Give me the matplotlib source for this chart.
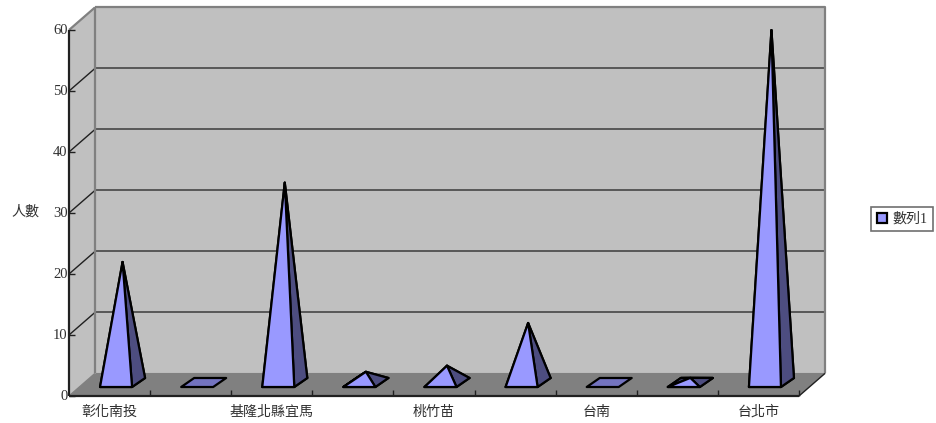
import matplotlib
matplotlib.use("Agg")
import matplotlib.pyplot as plt
from matplotlib.patches import Polygon, Patch

plt.rcParams['font.family'] = ['Liberation Serif', 'Noto Sans CJK TC', 'DejaVu Sans']

categories = ['彰化南投', '', '基隆北縣宜馬', '', '桃竹苗', '', '台南', '', '台北市']
values = [20, 0, 33, 2, 3, 10, 0, 1, 58]
y_ticks = [0, 10, 20, 30, 40, 50, 60]
series_name = '數列1'
y_label = '人數'

W, H = 936, 423
fig = plt.figure(figsize=(W / 100, H / 100), dpi=100)
ax = fig.add_axes([69 / W, (H - 396) / H, 730 / W, 366 / H])
n = len(categories)
ax.set_xlim(0, n)
ax.set_ylim(0, 60)
ax.axis('off')

# pixel sizes converted to data units
PX = n / 730
PY = 60 / 366
DX, DY = 26 * PX, 22.6 * PY
LW = 1.6

def poly(pts, fc, ec='none', lw=0, z=1, join='round'):
    ax.add_patch(Polygon(pts, closed=True, facecolor=fc, edgecolor=ec, linewidth=lw,
                         zorder=z, clip_on=False, joinstyle=join))

def line(xs, ys, c, lw, z=2):
    ax.plot(xs, ys, color=c, lw=lw, zorder=z, clip_on=False, solid_capstyle='butt')

# walls and floor
poly([(0, 0), (DX, DY), (DX, 60 + DY), (0, 60)], '#C0C0C0', z=1)
poly([(DX, DY), (n + DX, DY), (n + DX, 60 + DY), (DX, 60 + DY)], '#C0C0C0', z=1)
poly([(0, 0), (n, 0), (n + DX, DY), (DX, DY)], '#808080', z=1)

# gridlines
for t in y_ticks[1:]:
    line([DX, n + DX], [t + DY, t + DY], '#505050', 1.3)
    line([0, DX], [t, t + DY], '#202020' if t < 60 else '#808080', 1.0 if t < 60 else LW)

# wall frames
line([DX, DX], [DY, 60 + DY], '#808080', LW)
line([DX, n + DX, n + DX, ], [60 + DY, 60 + DY, DY], '#808080', LW)
line([DX, n + DX], [DY, DY], '#808080', 0.8)
line([n, n + DX], [0, DY], '#202020', 1.0)
line([0, DX], [0, DY], '#808080', 1.0)

# axes lines and ticks
line([0, 0], [0, 60], '#202020', LW, z=3)
line([0, n], [0, 0], '#202020', LW, z=3)
for t in y_ticks:
    line([0, 6 * PX], [t, t], '#202020', 1.0, z=3)
    ax.text(-1.5 * PX, t, str(t), ha='right', va='center', fontsize=10.5, color='#303030', clip_on=False)
for i in range(1, n + 1):
    line([i, i], [0, 6 * PY], '#202020', 1.0, z=3)
for i, c in enumerate(categories):
    if c:
        ax.text(i + 0.5, -16 * PY, c, ha='center', va='center', fontsize=10.1, color='#303030')
ax.text(-44 * PX, 30.1, y_label, ha='center', va='center', fontsize=10.1, color='#303030')

# pyramids
half = 16 * PX
fx0, fx1 = 6.5 * PX, 19.5 * PX   # front/back depth offset, x
fy0, fy1 = 9 * PY, 18 * PY       # front/back depth offset, y
apex_base = 12 * PY
BLUE, DARK, FLOOR = '#9999FF', '#4D4D80', '#7373BF'
for i, v in enumerate(values):
    c = i + 0.5
    fl = (c - half + fx0, fy0)
    fr = (c + half + fx0, fy0)
    br = (c + half + fx1, fy1)
    bl = (c - half + fx1, fy1)
    apex = (c + (fx0 + fx1) / 2, apex_base + v)
    z = 5 + i * 0.01
    kw = dict(ec='black', lw=LW, z=z, join='round')
    poly([fl, fr, br, bl], FLOOR, **kw)
    if v > 0:
        poly([fl, bl, apex], DARK, **kw)
        poly([bl, br, apex], DARK, **kw)
        poly([fr, br, apex], DARK, **kw)
        poly([fl, fr, apex], BLUE, **kw)

# legend
leg = fig.legend(handles=[Patch(facecolor=BLUE, edgecolor='black', linewidth=LW, label=series_name)],
                 loc='center', bbox_to_anchor=(902 / W, (H - 219) / H), frameon=True, fancybox=False,
                 edgecolor='#707070', framealpha=1, fontsize=10.1, handlelength=0.75, handleheight=0.75,
                 handletextpad=0.35, borderpad=0.38, borderaxespad=0)
leg.get_frame().set_linewidth(1.2)
for t in leg.get_texts():
    t.set_color('#303030')

fig.savefig('out.png', dpi=100)
